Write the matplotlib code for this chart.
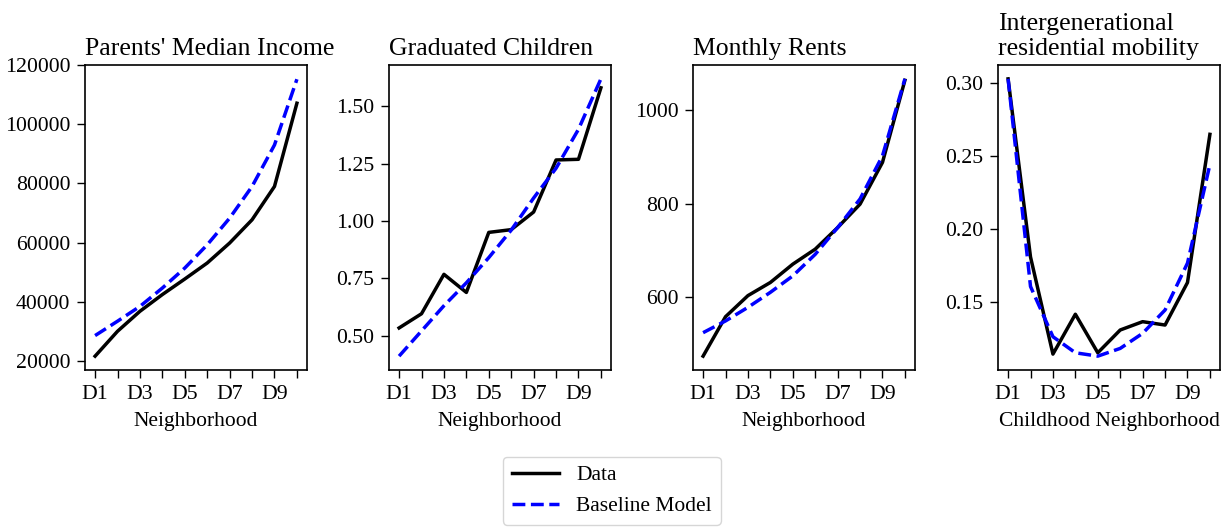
import matplotlib
matplotlib.use("Agg")
import matplotlib.pyplot as plt

plt.rcParams['font.family'] = ['Liberation Serif', 'DejaVu Serif']
plt.rcParams['mathtext.fontset'] = 'stix'

deciles = list(range(1, 11))
tick_labels = ['D1', '', 'D3', '', 'D5', '', 'D7', '', 'D9', '']

income_data = [21700, 30100, 36850, 42500, 47750, 53150, 59900, 67750, 79000, 107100]
income_model = [28650, 33500, 38500, 44700, 51450, 59300, 68300, 79000, 93000, 115200]

grad_data = [0.533, 0.595, 0.767, 0.688, 0.950, 0.962, 1.039, 1.266, 1.269, 1.581]
grad_model = [0.41, 0.52, 0.63, 0.73, 0.84, 0.96, 1.10, 1.23, 1.40, 1.62]

rent_data = [475, 559, 604, 632, 671, 703, 749, 799, 888, 1063]
rent_model = [525, 550, 579, 611, 646, 692, 749, 810, 902, 1066]

mob_data = [0.303, 0.181, 0.1145, 0.1418, 0.1154, 0.131, 0.1367, 0.1344, 0.1635, 0.265]
mob_model = [0.303, 0.1608, 0.1264, 0.1154, 0.1131, 0.1184, 0.1287, 0.1447, 0.1768, 0.2444]

titles = ["Parents' Median Income", "Graduated Children", "Monthly Rents",
          "Intergenerational\nresidential mobility"]
xlabels = ["Neighborhood", "Neighborhood", "Neighborhood", "Childhood Neighborhood"]
yticks = [[20000, 40000, 60000, 80000, 100000, 120000],
          [0.50, 0.75, 1.00, 1.25, 1.50],
          [600, 800, 1000],
          [0.15, 0.20, 0.25, 0.30]]
yfmt = ['{:.0f}', '{:.2f}', '{:.0f}', '{:.2f}']

series = [(income_data, income_model), (grad_data, grad_model),
          (rent_data, rent_model), (mob_data, mob_model)]

W, H = 1231, 527
fig = plt.figure(figsize=(W / 100, H / 100), dpi=100)
lefts = [85, 389, 693, 998]
axw = 222
top, bottom = 65, 370

handles = None
for i in range(4):
    ax = fig.add_axes([lefts[i] / W, (H - bottom) / H, axw / W, (bottom - top) / H])
    d, m = series[i]
    l1, = ax.plot(deciles, d, color='black', lw=2.5, label='Data')
    l2, = ax.plot(deciles, m, color='blue', lw=2.5, ls='--', label='Baseline Model')
    handles = [l1, l2]
    ax.set_xticks(deciles)
    ax.set_xticklabels(tick_labels)
    ax.set_yticks(yticks[i])
    ax.set_yticklabels([yfmt[i].format(v) for v in yticks[i]])
    ax.tick_params(axis='both', labelsize=15.7, length=6, width=1.0, pad=4.5)
    ax.set_xlabel(xlabels[i], fontsize=15.5, labelpad=6)
    ax.set_title(titles[i], loc='left', fontsize=18.5, pad=7)
    for s in ax.spines.values():
        s.set_linewidth(1.2)

fig.legend(handles, ['Data', 'Baseline Model'], loc='lower center',
           bbox_to_anchor=(0.497, -0.016), fontsize=15.5, frameon=True,
           handlelength=2.2)

fig.savefig('out.png', dpi=100)
